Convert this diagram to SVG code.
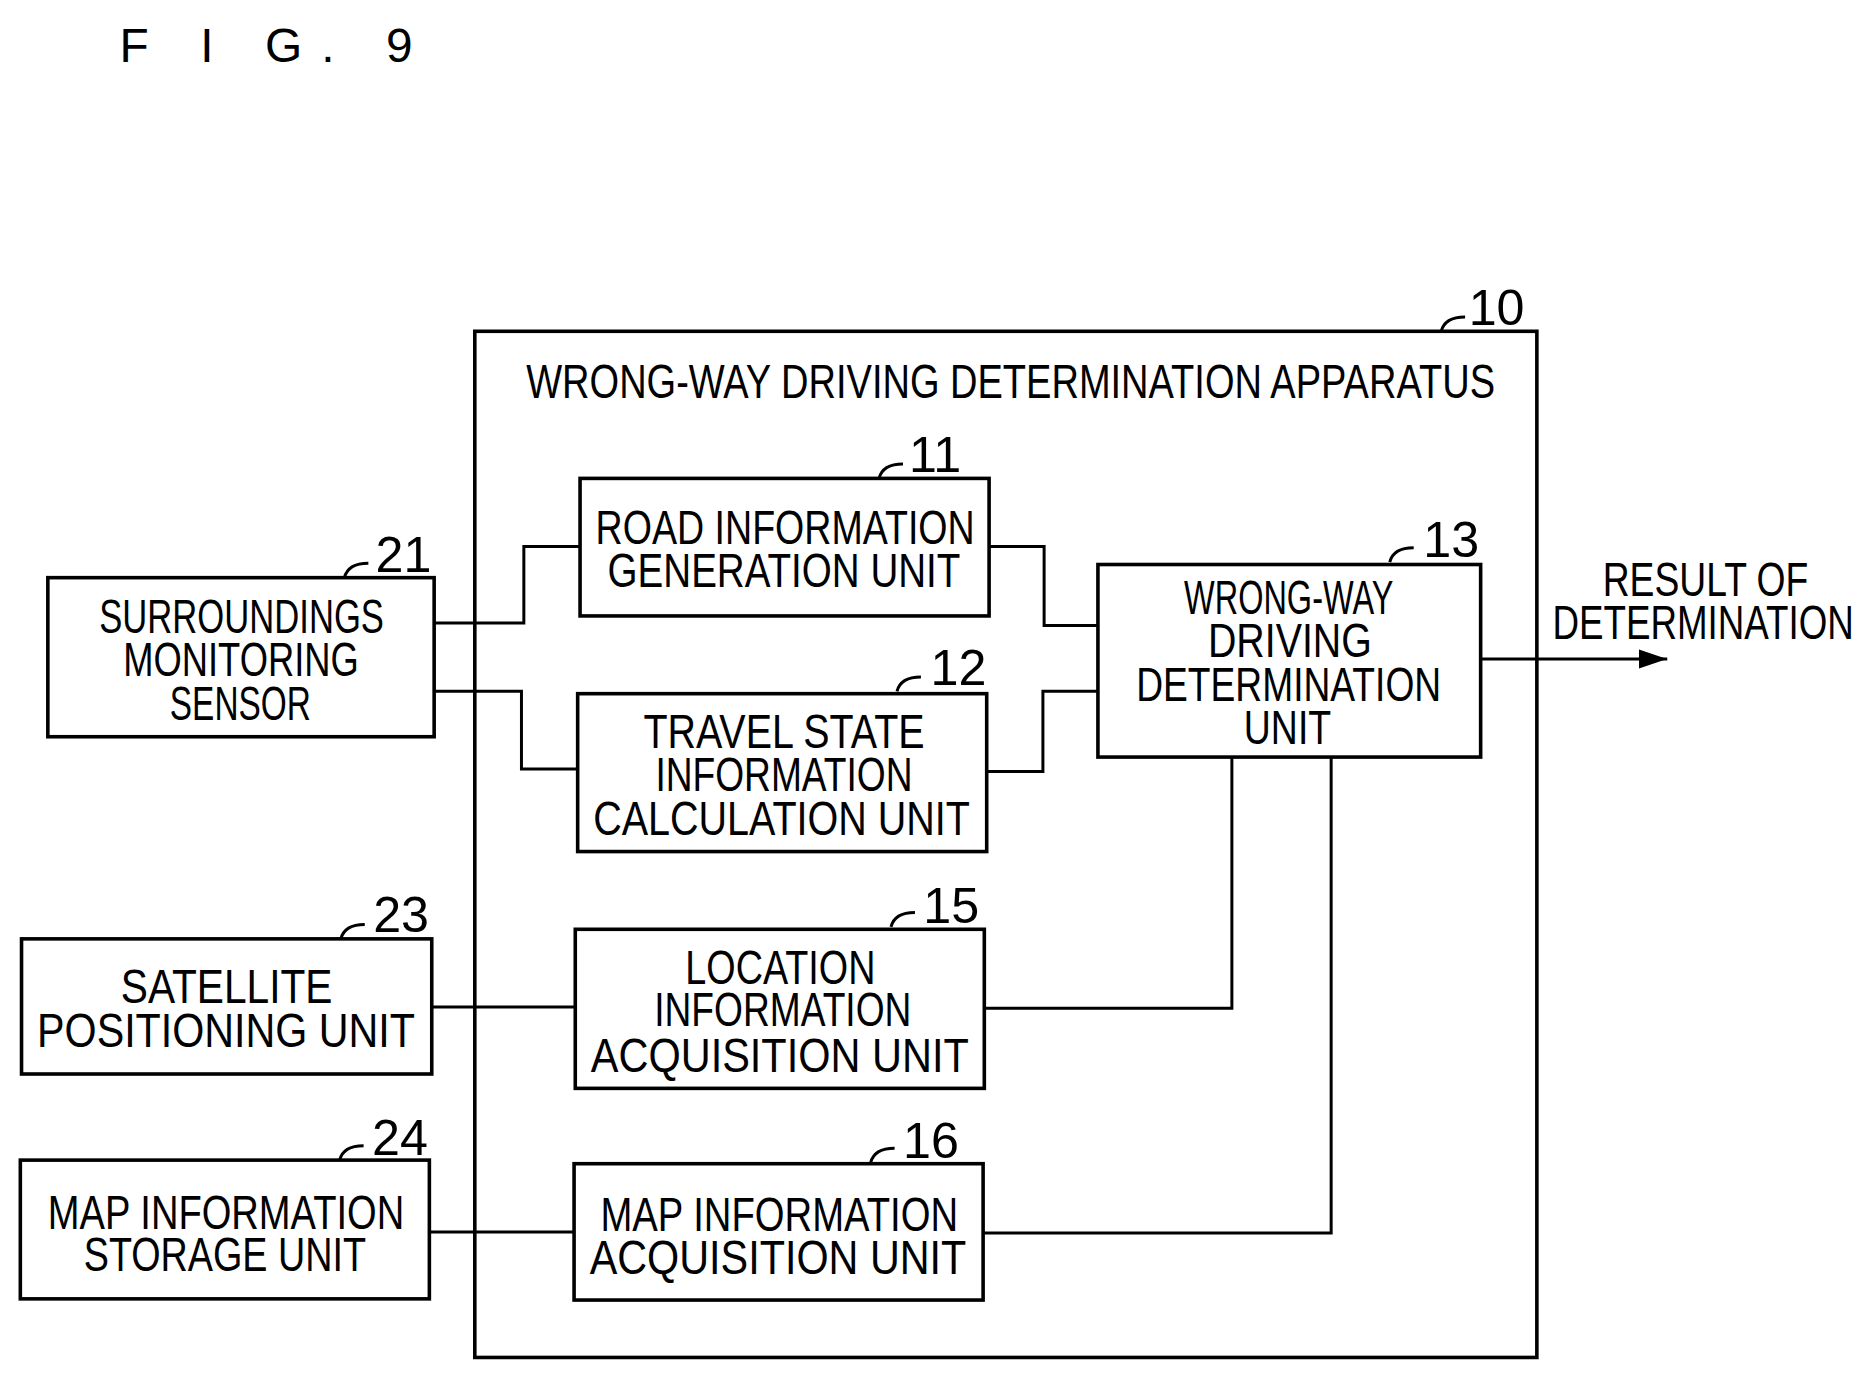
<svg xmlns="http://www.w3.org/2000/svg" width="1875" height="1380" viewBox="0 0 1875 1380">
<style>
.b{fill:none;stroke:#000;stroke-width:3}
.c{fill:none;stroke:#000;stroke-width:2.5}
.t{font-family:"Liberation Sans",Arial,sans-serif;font-size:40px;fill:#000}
.n{font-family:"Liberation Sans",Arial,sans-serif;font-size:42px;fill:#000}
</style>
<defs><marker id="ar" markerWidth="24" markerHeight="16" refX="24" refY="8" orient="auto" markerUnits="userSpaceOnUse"><path d="M0,0L24,8L0,16z" fill="#000"/></marker></defs>
<rect width="1875" height="1380" fill="#fff"/>
<g transform="scale(1.196)">
<text x="100" y="52" class="t" font-size="42" textLength="245" lengthAdjust="spacing">F I G. 9</text>
<g id="n10"><rect class="b" x="397" y="277" width="888" height="858"/>
<text class="t" x="440" y="333" textLength="810" lengthAdjust="spacingAndGlyphs">WRONG-WAY DRIVING DETERMINATION APPARATUS</text>
<path class="c" d="M1205,277 q3,-12 20,-12"/><text class="n" x="1228" y="272">10</text></g>
<g id="n11"><rect class="b" x="485" y="400" width="342" height="115"/>
<text class="t" x="498" y="455" textLength="317" lengthAdjust="spacingAndGlyphs">ROAD INFORMATION</text>
<text class="t" x="508" y="491" textLength="295" lengthAdjust="spacingAndGlyphs">GENERATION UNIT</text>
<path class="c" d="M735,400 q3,-12 20,-12"/><text class="n" x="760" y="395">11</text></g>
<g id="n12"><rect class="b" x="483" y="580" width="342" height="132"/>
<text class="t" x="538" y="625" textLength="235" lengthAdjust="spacingAndGlyphs">TRAVEL STATE</text>
<text class="t" x="548" y="661" textLength="215" lengthAdjust="spacingAndGlyphs">INFORMATION</text>
<text class="t" x="496" y="698" textLength="315" lengthAdjust="spacingAndGlyphs">CALCULATION UNIT</text>
<path class="c" d="M750,578 q3,-12 20,-12"/><text class="n" x="778" y="573">12</text></g>
<g id="n15"><rect class="b" x="481" y="777" width="342" height="133"/>
<text class="t" x="573" y="823" textLength="159" lengthAdjust="spacingAndGlyphs">LOCATION</text>
<text class="t" x="547" y="858" textLength="215" lengthAdjust="spacingAndGlyphs">INFORMATION</text>
<text class="t" x="494" y="896" textLength="316" lengthAdjust="spacingAndGlyphs">ACQUISITION UNIT</text>
<path class="c" d="M745,775 q3,-12 20,-12"/><text class="n" x="772" y="772">15</text></g>
<g id="n16"><rect class="b" x="480" y="973" width="342" height="114"/>
<text class="t" x="502" y="1029" textLength="299" lengthAdjust="spacingAndGlyphs">MAP INFORMATION</text>
<text class="t" x="493" y="1065" textLength="315" lengthAdjust="spacingAndGlyphs">ACQUISITION UNIT</text>
<path class="c" d="M728,972 q3,-12 20,-12"/><text class="n" x="755" y="968">16</text></g>
<g id="n13"><rect class="b" x="918" y="472" width="320" height="161"/>
<text class="t" x="990" y="513" textLength="175" lengthAdjust="spacingAndGlyphs">WRONG-WAY</text>
<text class="t" x="1010" y="549" textLength="137" lengthAdjust="spacingAndGlyphs">DRIVING</text>
<text class="t" x="950" y="586" textLength="255" lengthAdjust="spacingAndGlyphs">DETERMINATION</text>
<text class="t" x="1040" y="622" textLength="73" lengthAdjust="spacingAndGlyphs">UNIT</text>
<path class="c" d="M1162,470 q3,-12 20,-12"/><text class="n" x="1190" y="466">13</text></g>
<g id="n21"><rect class="b" x="40" y="483" width="323" height="133"/>
<text class="t" x="83" y="529" textLength="238" lengthAdjust="spacingAndGlyphs">SURROUNDINGS</text>
<text class="t" x="103" y="565" textLength="197" lengthAdjust="spacingAndGlyphs">MONITORING</text>
<text class="t" x="142" y="602" textLength="118" lengthAdjust="spacingAndGlyphs">SENSOR</text>
<path class="c" d="M288,483 q3,-12 20,-12"/><text class="n" x="314" y="478">21</text></g>
<g id="n23"><rect class="b" x="18" y="785" width="343" height="113"/>
<text class="t" x="101" y="839" textLength="177" lengthAdjust="spacingAndGlyphs">SATELLITE</text>
<text class="t" x="31" y="875" textLength="316" lengthAdjust="spacingAndGlyphs">POSITIONING UNIT</text>
<path class="c" d="M285,785 q3,-12 20,-12"/><text class="n" x="312" y="779">23</text></g>
<g id="n24"><rect class="b" x="17" y="970" width="342" height="116"/>
<text class="t" x="40" y="1028" textLength="298" lengthAdjust="spacingAndGlyphs">MAP INFORMATION</text>
<text class="t" x="70" y="1063" textLength="236" lengthAdjust="spacingAndGlyphs">STORAGE UNIT</text>
<path class="c" d="M284,970 q3,-12 20,-12"/><text class="n" x="311" y="966">24</text></g>
<g id="out"><text class="t" x="1340" y="498" textLength="172" lengthAdjust="spacingAndGlyphs">RESULT OF</text>
<text class="t" x="1298" y="534" textLength="252" lengthAdjust="spacingAndGlyphs">DETERMINATION</text></g>
<g id="connectors">
<path class="c" d="M363,521H438V457H485"/>
<path class="c" d="M363,578H436V643H483"/>
<path class="c" d="M827,457H873V523H918"/>
<path class="c" d="M825,645H872V578H918"/>
<path class="c" d="M823,843H1030V633"/>
<path class="c" d="M822,1031H1113V633"/>
<path class="c" d="M361,842H481"/>
<path class="c" d="M359,1030H480"/>
<path class="c" d="M1238,551H1394" marker-end="url(#ar)"/>
</g>
</g>
</svg>
